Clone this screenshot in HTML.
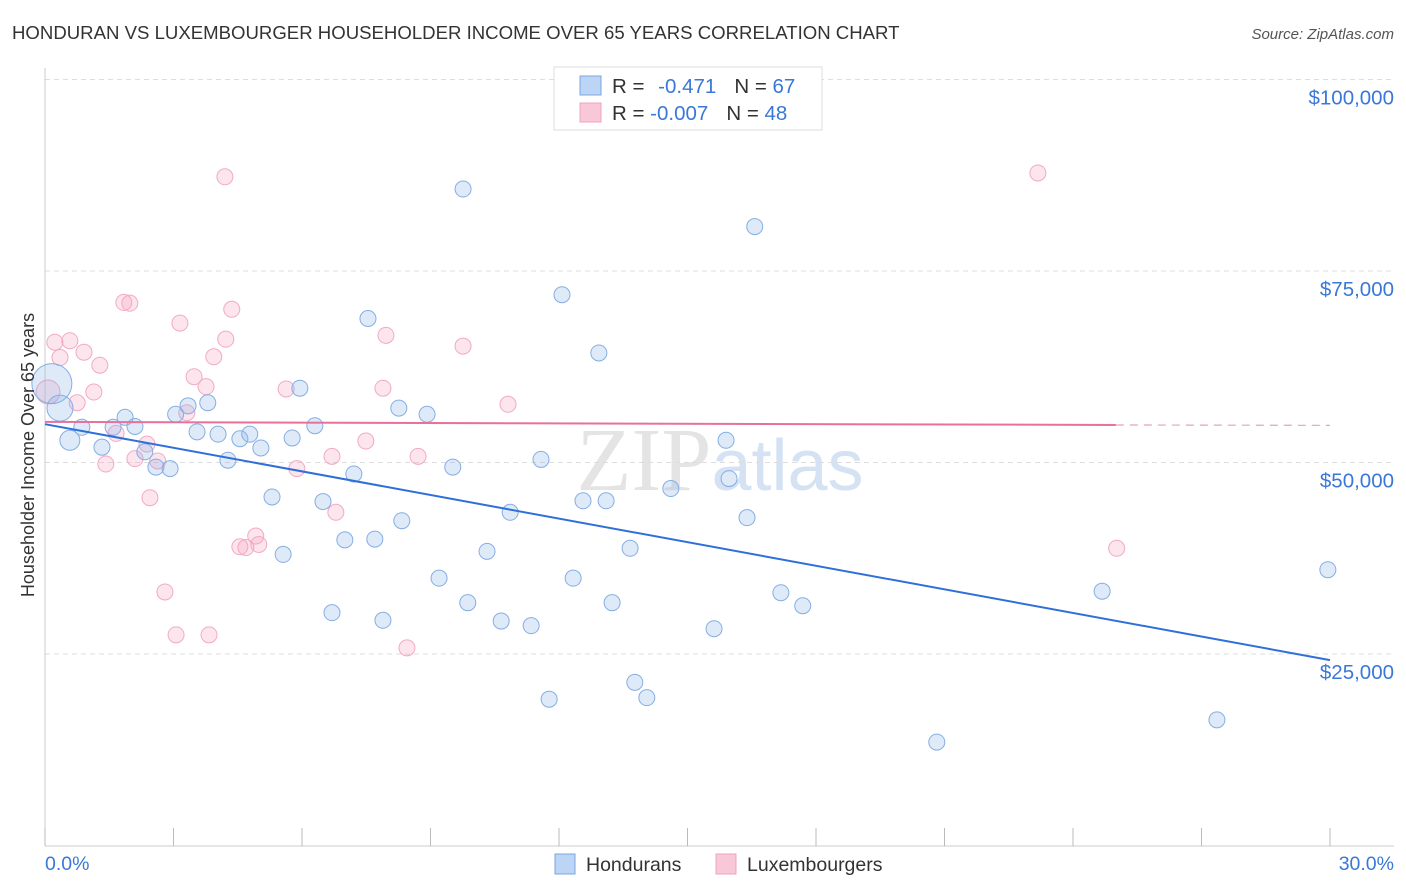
<!DOCTYPE html>
<html><head><meta charset="utf-8"><style>
body{margin:0;background:#fff;font-family:"Liberation Sans",sans-serif}
svg{display:block}
</style></head><body>
<svg id="c" width="1406" height="892">
<text x="12" y="39" font-size="18.6" fill="#333">HONDURAN VS LUXEMBOURGER HOUSEHOLDER INCOME OVER 65 YEARS CORRELATION CHART</text>
<text x="1394" y="39" font-size="15" fill="#555" font-style="italic" text-anchor="end">Source: ZipAtlas.com</text>
<text x="720" y="490" font-size="90" fill="#e4e4e4" text-anchor="middle" font-family="Liberation Serif,serif">ZIP<tspan fill="#d4e2f4" font-family="Liberation Sans,sans-serif" font-size="72">atlas</tspan></text>
<g id="grid"></g><g id="pts"></g><g id="lines"></g>
<text transform="translate(34,455) rotate(-90)" font-size="18" fill="#333" text-anchor="middle">Householder Income Over 65 years</text>
<text x="45" y="870" font-size="19.5" fill="#3a78d8">0.0%</text>
<text x="1394" y="870" font-size="19.5" fill="#3a78d8" text-anchor="end">30.0%</text>
<g>
<rect x="554" y="67" width="268" height="63" fill="#fff" stroke="#ddd"/>
<rect x="580" y="76" width="21" height="19" fill="#bcd4f5" stroke="#7aa6e0"/>
<rect x="580" y="103" width="21" height="19" fill="#f9c8d8" stroke="#f0a0bc"/>
<text x="612" y="93" font-size="20.5" fill="#333">R = <tspan fill="#3a78d8" dx="8">-0.471</tspan><tspan dx="18" fill="#333">N = </tspan><tspan fill="#3a78d8">67</tspan></text>
<text x="612" y="120" font-size="20.5" fill="#333">R = <tspan fill="#3a78d8">-0.007</tspan><tspan dx="18" fill="#333">N = </tspan><tspan fill="#3a78d8">48</tspan></text>
</g>
<g>
<rect x="555" y="854" width="20" height="20" fill="#bcd4f5" stroke="#7aa6e0"/>
<text x="586" y="871" font-size="19.5" fill="#333">Hondurans</text>
<rect x="716" y="854" width="20" height="20" fill="#f9c8d8" stroke="#f0a0bc"/>
<text x="747" y="871" font-size="19.5" fill="#333">Luxembourgers</text>
</g>
</svg>
<script>
const yTicks=[25000,50000,75000,100000];
const yTickLabels=["$25,000","$50,000","$75,000","$100,000"];
const bluePts=[[0.16,60300,20],[0.35,57100,13],[0.58,52900,10],[0.86,54600],[1.33,52000],[1.59,54600],[1.87,55900],[2.1,54700],[2.33,51400],[2.59,49400],[2.92,49200],[3.05,56300],[3.34,57400],[3.55,54000],[3.8,57800],[4.04,53700],[4.27,50300],[4.55,53100],[4.78,53700],[5.04,51900],[5.3,45500],[5.56,38000],[5.77,53200],[5.95,59700],[6.3,54800],[6.49,44900],[6.7,30400],[7.0,39900],[7.21,48500],[7.54,68800],[7.7,40000],[7.89,29400],[8.26,57100],[8.33,42400],[8.92,56300],[9.2,34900],[9.52,49400],[9.76,85700],[9.87,31700],[10.32,38400],[10.65,29300],[10.86,43500],[11.35,28700],[11.58,50400],[11.77,19100],[12.07,71900],[12.33,34900],[12.56,45000],[12.93,64300],[13.1,45000],[13.24,31700],[13.66,38800],[13.77,21300],[14.05,19300],[14.61,46600],[15.62,28300],[15.9,52900],[15.97,47900],[16.39,42800],[16.57,80800],[17.18,33000],[17.69,31300],[20.82,13500],[24.68,33200],[27.36,16400],[29.95,36000]];
const pinkPts=[[0.07,59200,12],[0.23,65700],[0.35,63700],[0.58,65900],[0.75,57800],[0.91,64400],[1.14,59200],[1.28,62700],[1.42,49800],[1.66,53800],[1.84,70900],[1.98,70800],[2.1,50500],[2.38,52400],[2.45,45400],[2.63,50200],[2.8,33100],[3.06,27500],[3.15,68200],[3.31,56500],[3.48,61200],[3.76,59900],[3.83,27500],[3.94,63800],[4.2,87300],[4.22,66100],[4.36,70000],[4.55,39000],[4.69,38900],[4.92,40400],[4.99,39300],[5.63,59600],[5.88,49200],[6.7,50800],[6.79,43500],[7.49,52800],[7.89,59700],[7.96,66600],[8.45,25800],[8.71,50800],[9.76,65200],[10.81,57600],[23.18,87800],[25.02,38800]];
const blueLine=[[0,55000],[30,24200]];
const pinkLine=[[0,55300],[25,54900],[30,54850]];
const X0=45,X1=1330,Y0=845.5,PX=191.5/25000;
const xs=p=>X0+(X1-X0)*p/30, ys=v=>Y0-v*PX;
const NS="http://www.w3.org/2000/svg";
function mk(t,a,parent){const e=document.createElementNS(NS,t);for(const k in a)e.setAttribute(k,a[k]);parent.appendChild(e);return e;}
const grid=document.getElementById('grid');
yTicks.forEach((v,i)=>{
 const l=mk('line',{x1:X0,x2:1394,y1:ys(v),y2:ys(v),stroke:'#ddd','stroke-dasharray':'5,4'},grid);
 
 
 const t=mk('text',{x:1394,y:ys(v)+25,'font-size':20.5,fill:'#3a78d8','text-anchor':'end'},grid);
 t.textContent=yTickLabels[i];
 
 
});
mk('line',{x1:X0,x2:X0,y1:68,y2:846,stroke:'#ccc'},grid);
mk('line',{x1:X0,x2:1394,y1:846,y2:846,stroke:'#ccc'},grid);
for(let i=0;i<=10;i++){const t=mk('line',{x1:xs(i*3),x2:xs(i*3),y1:828,y2:846,stroke:'#bbb'},grid);
 
 }
const pts=document.getElementById('pts');
pinkPts.forEach(p=>{const c=mk('circle',{cx:xs(p[0]),cy:ys(p[1]),r:p[2]||8,fill:'rgba(244,160,190,0.28)',stroke:'#f2aac4','stroke-width':1},pts);
 
 });
bluePts.forEach(p=>{const c=mk('circle',{cx:xs(p[0]),cy:ys(p[1]),r:p[2]||8,fill:'rgba(140,180,235,0.28)',stroke:'#85aee3','stroke-width':1},pts);
 
 });
const lines=document.getElementById('lines');
const bl=mk('line',{x1:xs(blueLine[0][0]),y1:ys(blueLine[0][1]),x2:xs(blueLine[1][0]),y2:ys(blueLine[1][1]),stroke:'#2f6fd8','stroke-width':2},lines);


const pl=mk('line',{x1:xs(pinkLine[0][0]),y1:ys(pinkLine[0][1]),x2:xs(pinkLine[1][0]),y2:ys(pinkLine[1][1]),stroke:'#e8709a','stroke-width':2},lines);


const pd=mk('line',{x1:xs(pinkLine[1][0]),y1:ys(pinkLine[1][1]),x2:xs(pinkLine[2][0]),y2:ys(pinkLine[2][1]),stroke:'#e8a0b8','stroke-width':1.2,'stroke-dasharray':'8,6'},lines);


</script>
</body></html>
